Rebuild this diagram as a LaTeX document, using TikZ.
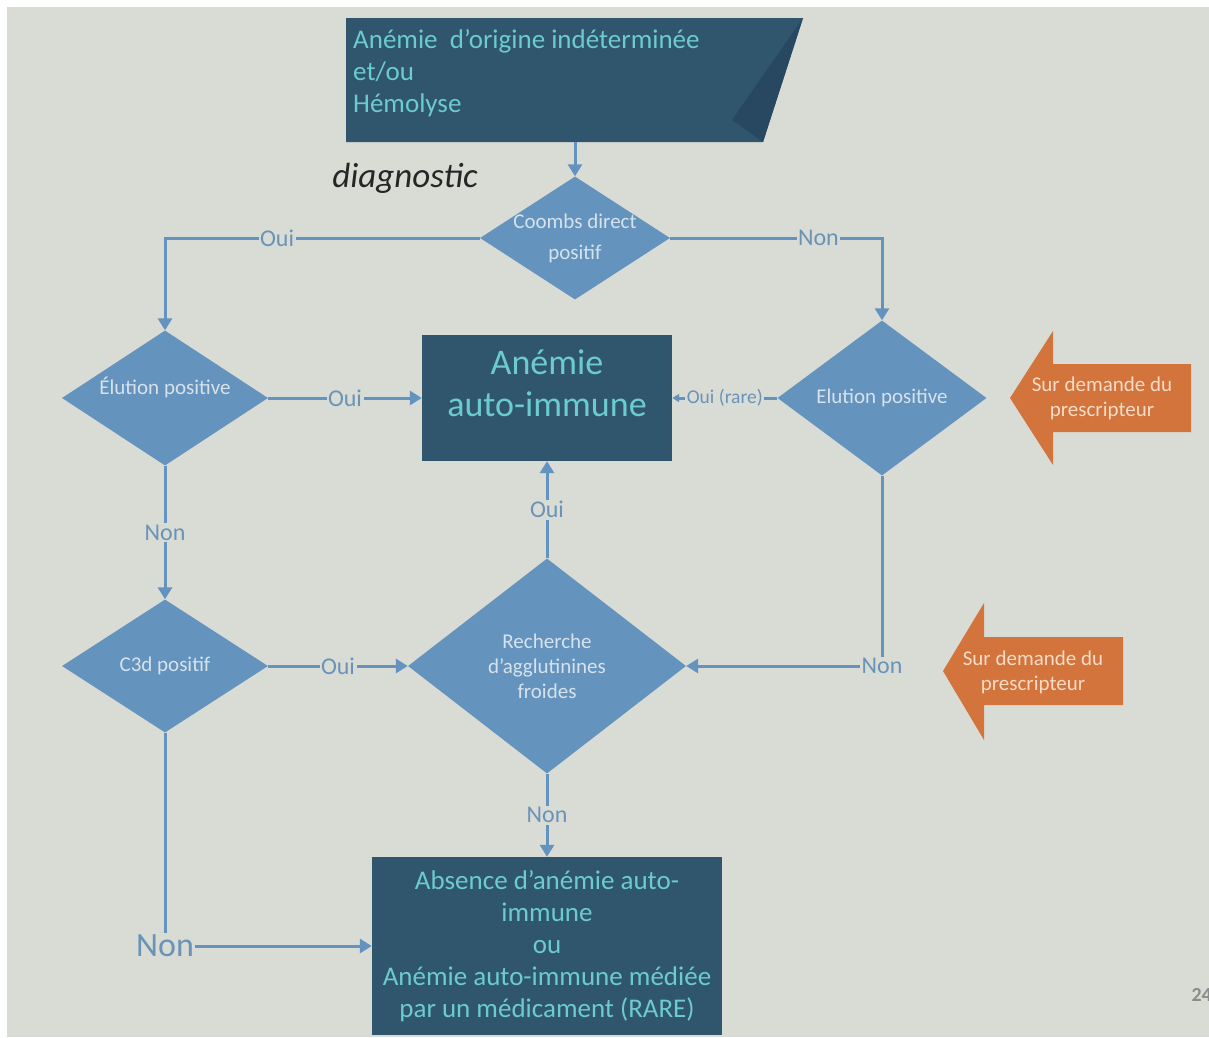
\documentclass[tikz,border=0pt]{standalone}
\usepackage{fontspec}
\setmainfont{Carlito}
\usetikzlibrary{shapes.geometric,arrows.meta}
\definecolor{bgc}{HTML}{D9DBD5}
\definecolor{boxc}{HTML}{30566E}
\definecolor{boxdark}{HTML}{274860}
\definecolor{boxtext}{HTML}{6CCBCD}
\definecolor{diac}{HTML}{6493BE}
\definecolor{diatext}{HTML}{D6E2EC}
\definecolor{linec}{HTML}{6593BF}
\definecolor{lblc}{HTML}{6A93B8}
\definecolor{orc}{HTML}{D2743B}
\definecolor{ortext}{HTML}{F5DCC8}
\begin{document}
\begin{tikzpicture}[x=1pt,y=-1pt,
  dia/.style={diamond, fill=diac, inner sep=0pt},
  diatxt/.style={text=diatext, align=center, inner sep=0pt, font=\fontsize{21}{25}\selectfont},
  boxn/.style={rectangle, fill=boxc, text=boxtext, align=center, inner sep=0pt},
  conn/.style={draw=linec, line width=3pt, -{Triangle[length=12pt,width=14pt]}},
  lbl/.style={fill=bgc, text=lblc, inner sep=1.5pt, font=\fontsize{24}{24}\selectfont},
  ortxt/.style={text=ortext, align=center, font=\fontsize{21}{25}\selectfont}]
\useasboundingbox (0,0) rectangle (1209,1037);
\fill[white] (0,0) rectangle (1209,1037);
\fill[bgc] (7,7) rectangle (1209,1037);
% top box
\fill[boxc] (346,18) -- (803,18) -- (763,142) -- (346,142) -- cycle;
\fill[boxdark] (803,18) -- (732,120) -- (763,142) -- cycle;
\node[anchor=north west, text=boxtext, align=left, inner sep=0pt, font=\fontsize{27}{32}\selectfont] (toptext) at (353,29) {Anémie\ \ d’origine indéterminée\\et/ou\\Hémolyse};
\coordinate (topout) at (575,142);
\node[anchor=center, font=\fontsize{35}{35}\selectfont\itshape, text=black!85] (diag) at (405,178) {diagnostic};
% diamonds
\node[dia, minimum width=190pt, minimum height=123pt, label={[diatxt, font=\fontsize{21}{31}\selectfont]center:Coombs direct\\positif}] (coombs) at (575,238) {};
\node[dia, minimum width=206pt, minimum height=135pt, label={[diatxt, yshift=11pt]center:Élution positive}] (el1) at (165,398) {};
\node[dia, minimum width=209pt, minimum height=155pt, label={[diatxt]center:Elution positive}] (el2) at (882,398) {};
\node[dia, minimum width=206pt, minimum height=133pt, label={[diatxt]center:C3d positif}] (c3d) at (165,666) {};
\node[dia, minimum width=278pt, minimum height=215pt, label={[diatxt]center:Recherche\\d’agglutinines\\froides}] (agg) at (547,666) {};
% boxes
\node[boxn, minimum width=250pt, minimum height=126pt, label={[text=boxtext, align=center, inner sep=0pt, yshift=15pt, font=\fontsize{36}{42}\selectfont]center:Anémie\\auto-immune}] (aai) at (547,398) {};
\node[boxn, minimum width=350pt, minimum height=178pt, font=\fontsize{27}{32}\selectfont] (abs) at (547,946) {Absence d’anémie auto-\\immune\\ou\\Anémie auto-immune médiée\\par un médicament (RARE)};
% orange arrows
\fill[orc] (1010,398) -- (1053,331) -- (1053,364) -- (1191,364) -- (1191,432) -- (1053,432) -- (1053,465) -- cycle;
\node[ortxt] (or1) at (1102,398) {Sur demande du\\prescripteur};
\fill[orc] (943,671) -- (984,603) -- (984,637) -- (1123,637) -- (1123,705) -- (984,705) -- (984,740) -- cycle;
\node[ortxt] (or2) at (1033,672) {Sur demande du\\prescripteur};
% connectors
\draw[conn] (topout) -- (coombs.north);
\draw[conn] (coombs.west) -| node[lbl, pos=0.322] {Oui} (el1.north);
\draw[conn] (coombs.east) -| node[lbl, pos=0.35] {Non} (el2.north);
\draw[conn] (el1.east) -- node[lbl, pos=0.5] {Oui} (aai.west);
\draw[draw=linec, line width=3pt, -{Triangle[length=7pt,width=8pt]}] (el2.west) -- node[lbl, pos=0.5, font=\fontsize{19.5}{19.5}\selectfont] {Oui (rare)} (aai.east);
\draw[conn] (el1.south) -- node[lbl, pos=0.5] {Non} (c3d.north);
\draw[conn] (c3d.east) -- node[lbl, pos=0.5] {Oui} (agg.west);
\draw[conn] (agg.north) -- node[lbl, pos=0.5] {Oui} (aai.south);
\draw[conn] (agg.south) -- node[lbl, pos=0.5] {Non} (abs.north);
\draw[conn] (el2.south) |- node[lbl, pos=0.5] {Non} (agg.east);
\draw[conn] (c3d.south) |- node[lbl, pos=0.5, font=\fontsize{34}{34}\selectfont] {Non} (abs.west);
\node[anchor=west, text=black!45, font=\fontsize{20}{20}\selectfont\bfseries] (page) at (1188,995) {24};
\end{tikzpicture}
\end{document}
